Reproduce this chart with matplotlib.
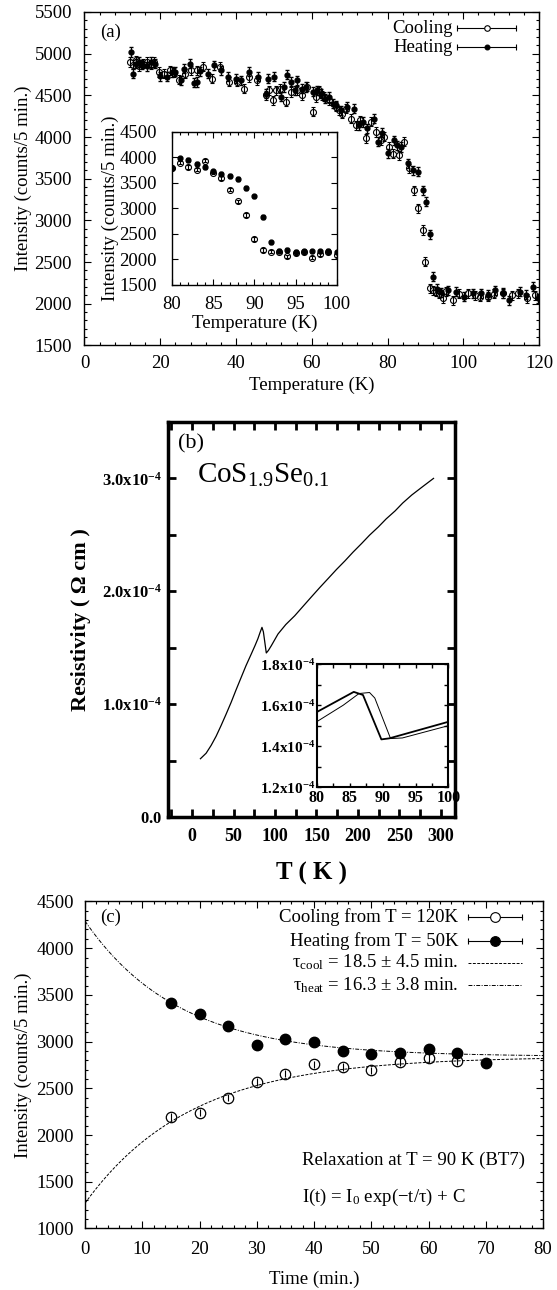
import numpy as np
import matplotlib
matplotlib.use('Agg')
import matplotlib.pyplot as plt
from matplotlib.ticker import MultipleLocator, FuncFormatter

plt.rcParams['font.family'] = ['Liberation Serif', 'DejaVu Serif']
plt.rcParams['mathtext.fontset'] = 'custom'
plt.rcParams['mathtext.rm'] = 'Liberation Serif'
plt.rcParams['mathtext.it'] = 'Liberation Serif:italic'
plt.rcParams['mathtext.bf'] = 'Liberation Serif:bold'
plt.rcParams['xtick.direction'] = 'in'
plt.rcParams['ytick.direction'] = 'in'
plt.rcParams['xtick.top'] = True
plt.rcParams['ytick.right'] = True

# ---- (a) order parameter vs temperature ----
cool_T = [12.0, 12.8, 13.5, 14.5, 15.5, 16.5, 17.5, 18.3, 19.8, 21.0, 22.5, 23.5,
          25.0, 26.5, 28.0, 29.7, 31.4, 33.7, 35.9, 38.1, 40.3, 42.0, 43.5, 45.6,
          47.8, 48.8, 49.8, 50.6, 51.5, 53.1, 54.5, 56.2, 57.5, 58.8, 60.2, 61.0,
          61.8, 62.6, 63.2, 64.6, 66.3, 67.2, 68.0, 69.0, 70.3, 71.6, 72.8, 74.3,
          75.6, 77.0, 78.2, 79.1, 80.5, 81.5, 83.1, 84.4, 85.8, 87.1, 88.0, 89.3,
          90.0, 91.1, 92.0, 92.8, 93.6, 94.6, 95.5, 97.2, 99.0, 101.2, 103.0, 104.3,
          106.5, 108.0, 110.5, 113.0, 114.5, 116.7, 118.9]
cool_I = [4900, 4870, 4920, 4850, 4880, 4900, 4870, 4900, 4780, 4760, 4800, 4770,
          4690, 4760, 4800, 4802, 4846, 4702, 4842, 4662, 4662, 4582, 4720, 4682,
          4502, 4560, 4442, 4560, 4580, 4422, 4540, 4562, 4502, 4602, 4302, 4480,
          4562, 4500, 4482, 4442, 4362, 4320, 4282, 4340, 4222, 4142, 4200, 3983,
          4182, 4060, 3960, 4002, 3880, 3800, 3783, 3942, 3623, 3363, 3143, 2884,
          2504, 2184, 2160, 2144, 2120, 2064, 2150, 2044, 2120, 2124, 2100, 2084,
          2084, 2120, 2124, 2100, 2124, 2064, 2104]
heat_T = [12.2, 12.8, 13.5, 14.3, 15.3, 16.5, 17.5, 18.5, 20.0, 21.8, 23.0, 24.0,
          25.5, 26.2, 27.9, 28.8, 29.7, 30.5, 32.5, 34.1, 36.0, 38.0, 40.1, 41.3,
          43.4, 45.8, 47.8, 48.5, 50.0, 51.8, 52.8, 53.5, 54.4, 55.5, 56.2, 57.5,
          58.5, 60.2, 61.5, 62.4, 63.5, 64.5, 65.5, 66.5, 67.7, 69.4, 71.2, 72.5,
          73.5, 74.7, 76.5, 77.4, 78.5, 80.0, 81.8, 82.5, 83.5, 85.3, 86.6, 88.0,
          89.3, 90.2, 91.3, 92.1, 93.0, 94.0, 95.9, 98.1, 100.3, 102.5, 104.7, 106.5,
          108.3, 110.5, 112.2, 114.9, 116.5, 118.4, 119.8]
heat_I = [5020, 4760, 4880, 4900, 4870, 4850, 4900, 4880, 4730, 4722, 4780, 4782,
          4680, 4822, 4882, 4650, 4660, 4790, 4760, 4860, 4800, 4722, 4702, 4680,
          4782, 4722, 4520, 4700, 4722, 4482, 4600, 4750, 4662, 4560, 4682, 4580,
          4600, 4542, 4560, 4522, 4460, 4480, 4402, 4380, 4322, 4362, 4342, 4142,
          4180, 4103, 4222, 3942, 4050, 3803, 3963, 3900, 3880, 3683, 3603, 3583,
          3363, 3223, 2832, 2324, 2180, 2140, 2164, 2144, 2084, 2124, 2124, 2110,
          2164, 2130, 2044, 2144, 2110, 2204, 2064]
err_a = 55

# inset of (a)
ins_T = [80, 81, 82, 83, 84, 85, 86, 87, 88, 89, 90, 91, 92, 93, 94, 95, 96, 97, 98, 99, 100]
ins_cool = [3790, 3900, 3814, 3761, 3940, 3701, 3595, 3369, 3137, 2871, 2400, 2187,
            2153, 2153, 2060, 2121, 2150, 2035, 2101, 2150, 2088]
ins_heat = [3800, 3980, 3947, 3880, 3814, 3728, 3681, 3635, 3582, 3396, 3236, 2838,
            2334, 2170, 2183, 2153, 2160, 2160, 2160, 2170, 2140]
err_ins = 35

# ---- (b) resistivity ----
rho_T = [10.1, 17, 23, 29, 35, 41, 47.2, 53, 59.3, 65, 71.4, 76, 79.4, 82, 84.3, 86,
         87.5, 89.5, 92, 95.6, 103.6, 113, 123.8, 134, 144.0, 154, 164.1, 174,
         184.3, 194, 204.4, 214, 224.6, 234, 244.8, 254, 264.9, 278, 291.1]
rho = [0.516, 0.565, 0.634, 0.715, 0.81, 0.91, 1.017, 1.125, 1.238, 1.34, 1.444,
       1.52, 1.58, 1.635, 1.68, 1.64, 1.56, 1.453, 1.475, 1.518, 1.621, 1.705,
       1.783, 1.868, 1.951, 2.033, 2.113, 2.192, 2.269, 2.346, 2.423, 2.497,
       2.570, 2.641, 2.712, 2.782, 2.853, 2.927, 3.000]  # 1e-4 Ohm cm

# inset of (b): two sweeps
rA_T = [80, 85.6, 87.0, 89.8, 91.0, 100]
rA = [1.567, 1.665, 1.650, 1.433, 1.438, 1.519]
rB_T = [80, 84, 86.4, 88.0, 88.8, 91.2, 93.0, 100]
rB = [1.52, 1.60, 1.657, 1.662, 1.635, 1.437, 1.44, 1.50]

# ---- (c) relaxation at 90 K ----
t_heat = [15, 20, 25, 30, 35, 40, 45, 50, 55, 60, 65, 70]
I_heat = [3417, 3295, 3164, 2968, 3028, 2996, 2900, 2864, 2875, 2925, 2875, 2772]
t_cool = [15, 20, 25, 30, 35, 40, 45, 50, 55, 60, 65]
I_cool = [2194, 2240, 2401, 2568, 2658, 2757, 2729, 2693, 2782, 2825, 2793]
err_c = 40
C_fit = 2840
I0_heat, tau_heat = 1450, 16.3
I0_cool, tau_cool = -1570, 18.5

fig = plt.figure(figsize=(5.57, 12.9), dpi=100)


def style(ax, lw=1.0, size=13.5, major=5, minor=2.5):
    for s in ax.spines.values():
        s.set_linewidth(lw)
    ax.tick_params(which='major', length=major, width=0.8, labelsize=size)
    ax.tick_params(which='minor', length=minor, width=0.8)


def legend_row(ax, x_txt, x0, x1, y, label, filled, ms):
    ax.text(x_txt, y, label, transform=ax.transAxes, ha='right', va='center', fontsize=13.5)
    ax.plot([x0, x1], [y, y], transform=ax.transAxes, color='k', lw=0.8)
    ax.plot([x0, x1], [y, y], '|', transform=ax.transAxes, color='k', ms=5, mew=0.8)
    ax.plot([(x0 + x1) / 2], [y], 'o', transform=ax.transAxes, ms=ms,
            mfc='k' if filled else 'white', mec='k', mew=0.8)


# panel (a)
ax1 = fig.add_axes([0.1517, 0.7322, 0.816, 0.2585])
ax1.errorbar(cool_T, cool_I, yerr=err_a, fmt='o', ms=4.3, mfc='none', mec='k', mew=0.8,
             ecolor='k', elinewidth=0.8, capsize=1.5)
ax1.errorbar(heat_T, heat_I, yerr=err_a, fmt='o', ms=3.5, mfc='k', mec='k',
             ecolor='k', elinewidth=0.8, capsize=1.5)
ax1.set_xlim(0, 120)
ax1.set_ylim(1500, 5500)
ax1.xaxis.set_major_locator(MultipleLocator(20))
ax1.xaxis.set_minor_locator(MultipleLocator(4))
ax1.yaxis.set_major_locator(MultipleLocator(500))
ax1.yaxis.set_minor_locator(MultipleLocator(100))
style(ax1)
ax1.tick_params(axis='x', pad=7)
ax1.tick_params(axis='y', pad=9)
ax1.set_xlabel('Temperature (K)', fontsize=13.5, labelpad=3)
ax1.set_ylabel('Intensity (counts/5 min.)', fontsize=13.5, labelpad=2)
ax1.text(0.034, 0.94, '(a)', transform=ax1.transAxes, fontsize=13.5, va='center')
legend_row(ax1, 0.811, 0.82, 0.949, 0.952, 'Cooling', False, 4)
legend_row(ax1, 0.811, 0.82, 0.949, 0.895, 'Heating', True, 3.5)

ax1i = fig.add_axes([0.3088, 0.7791, 0.2957, 0.1186])
ax1i.errorbar(ins_T, ins_cool, yerr=err_ins, fmt='o', ms=4.3, mfc='none', mec='k', mew=0.8,
              ecolor='k', elinewidth=0.8, capsize=1.2)
ax1i.errorbar(ins_T, ins_heat, yerr=err_ins, fmt='o', ms=3.5, mfc='k', mec='k',
              ecolor='k', elinewidth=0.8, capsize=1.2)
ax1i.set_xlim(80, 100)
ax1i.set_ylim(1500, 4500)
ax1i.xaxis.set_major_locator(MultipleLocator(5))
ax1i.xaxis.set_minor_locator(MultipleLocator(1))
ax1i.yaxis.set_major_locator(MultipleLocator(500))
style(ax1i, size=13.5, major=4, minor=2)
ax1i.tick_params(axis='x', pad=8)
ax1i.tick_params(axis='y', pad=11)
ax1i.set_xlabel('Temperature (K)', fontsize=13.5, labelpad=1)
ax1i.set_ylabel('Intensity (counts/5 min.)', fontsize=13.5, labelpad=0)

# panel (b)
ax2 = fig.add_axes([0.3016, 0.3667, 0.5153, 0.3062])
ax2.plot(rho_T, np.array(rho) * 1e-4, color='k', lw=0.9)
ax2.set_xlim(-29, 317)
ax2.set_ylim(0, 3.5e-4)
ax2.xaxis.set_major_locator(MultipleLocator(50))
ax2.xaxis.set_minor_locator(MultipleLocator(25))
ax2.yaxis.set_major_locator(MultipleLocator(1e-4))
ax2.yaxis.set_minor_locator(MultipleLocator(0.5e-4))


def rho_fmt(v, pos):
    if abs(v) < 1e-12:
        return r'$\mathbf{0.0}$'
    return r'$\mathbf{%.1fx10^{-4}}$' % (v * 1e4)


ax2.yaxis.set_major_formatter(FuncFormatter(rho_fmt))
for s in ax2.spines.values():
    s.set_linewidth(2.5)
ax2.tick_params(which='both', length=6, width=2)
ax2.tick_params(axis='x', labelsize=13, pad=8)
ax2.tick_params(axis='y', labelsize=12, pad=4)
for lab in ax2.get_xticklabels():
    lab.set_fontweight('bold')
ax2.set_xlabel('T ( K )', fontsize=18, fontweight='bold', labelpad=12)
ax2.set_ylabel('Resistivity ( Ω cm )', fontsize=16, fontweight='bold', labelpad=8)
ax2.text(0.035, 0.945, '(b)', transform=ax2.transAxes, fontsize=16, va='center')
ax2.text(0.1, 0.865, r'CoS$_{1.9}$Se$_{0.1}$', transform=ax2.transAxes, fontsize=21,
         va='center')

ax2i = ax2.inset_axes([0.519, 0.0756, 0.458, 0.311])
ax2i.plot(rA_T, np.array(rA) * 1e-4, color='k', lw=1.3)
ax2i.plot(rB_T, np.array(rB) * 1e-4, color='k', lw=0.7)
ax2i.set_xlim(80, 100)
ax2i.set_ylim(1.2e-4, 1.8e-4)
ax2i.xaxis.set_major_locator(MultipleLocator(5))
ax2i.xaxis.set_minor_locator(MultipleLocator(2.5))
ax2i.yaxis.set_major_locator(MultipleLocator(0.2e-4))
ax2i.yaxis.set_minor_locator(MultipleLocator(0.1e-4))
ax2i.yaxis.set_major_formatter(FuncFormatter(rho_fmt))
for s in ax2i.spines.values():
    s.set_linewidth(1.5)
ax2i.tick_params(which='both', length=3, width=1)
ax2i.tick_params(axis='x', labelsize=11.5, pad=2)
ax2i.tick_params(axis='y', labelsize=11, pad=1)
for lab in ax2i.get_xticklabels():
    lab.set_fontweight('bold')

# panel (c)
ax3 = fig.add_axes([0.1526, 0.0477, 0.8223, 0.2535])
tt = np.linspace(0, 80, 300)
ax3.plot(tt, C_fit + I0_cool * np.exp(-tt / tau_cool), color='k', lw=0.7, ls=(0, (3, 1.5)))
ax3.plot(tt, C_fit + I0_heat * np.exp(-tt / tau_heat), color='k', lw=0.7, ls=(0, (4, 1.5, 1, 1.5)))
ax3.errorbar(t_cool, I_cool, yerr=err_c, fmt='o', ms=7.5, mfc='none', mec='k', mew=0.9,
             ecolor='k', elinewidth=0.8, capsize=0)
ax3.errorbar(t_heat, I_heat, yerr=err_c, fmt='o', ms=7.5, mfc='k', mec='k',
             ecolor='k', elinewidth=0.8, capsize=0)
ax3.set_xlim(0, 80)
ax3.set_ylim(1000, 4500)
ax3.xaxis.set_major_locator(MultipleLocator(10))
ax3.xaxis.set_minor_locator(MultipleLocator(2))
ax3.yaxis.set_major_locator(MultipleLocator(500))
ax3.yaxis.set_minor_locator(MultipleLocator(100))
style(ax3)
ax3.tick_params(axis='x', pad=9)
ax3.tick_params(axis='y', pad=8)
ax3.set_xlabel('Time (min.)', fontsize=13.5, labelpad=9)
ax3.set_ylabel('Intensity (counts/5 min.)', fontsize=13.5, labelpad=3)
ax3.text(0.033, 0.951, '(c)', transform=ax3.transAxes, fontsize=13.5, va='center')
legend_row(ax3, 0.815, 0.836, 0.954, 0.951, 'Cooling from T = 120K', False, 7)
legend_row(ax3, 0.815, 0.836, 0.954, 0.878, 'Heating from T = 50K', True, 7)
ax3.text(0.815, 0.813, r'τ$_{\rm cool}$ = 18.5 ± 4.5 min.', transform=ax3.transAxes,
         ha='right', va='center', fontsize=13.5)
ax3.plot([0.836, 0.954], [0.813, 0.813], transform=ax3.transAxes, color='k', lw=0.7,
         ls=(0, (3, 1.5)))
ax3.text(0.815, 0.745, r'τ$_{\rm heat}$ = 16.3 ± 3.8 min.', transform=ax3.transAxes,
         ha='right', va='center', fontsize=13.5)
ax3.plot([0.836, 0.954], [0.745, 0.745], transform=ax3.transAxes, color='k', lw=0.7,
         ls=(0, (4, 1.5, 1, 1.5)))
ax3.text(0.474, 0.209, 'Relaxation at T = 90 K (BT7)', transform=ax3.transAxes,
         va='center', fontsize=13.5)
ax3.text(0.474, 0.095, r'I(t) = I$_0$ exp(−t/τ) + C', transform=ax3.transAxes,
         va='center', fontsize=13.5)

fig.savefig('out.png', dpi=100)
